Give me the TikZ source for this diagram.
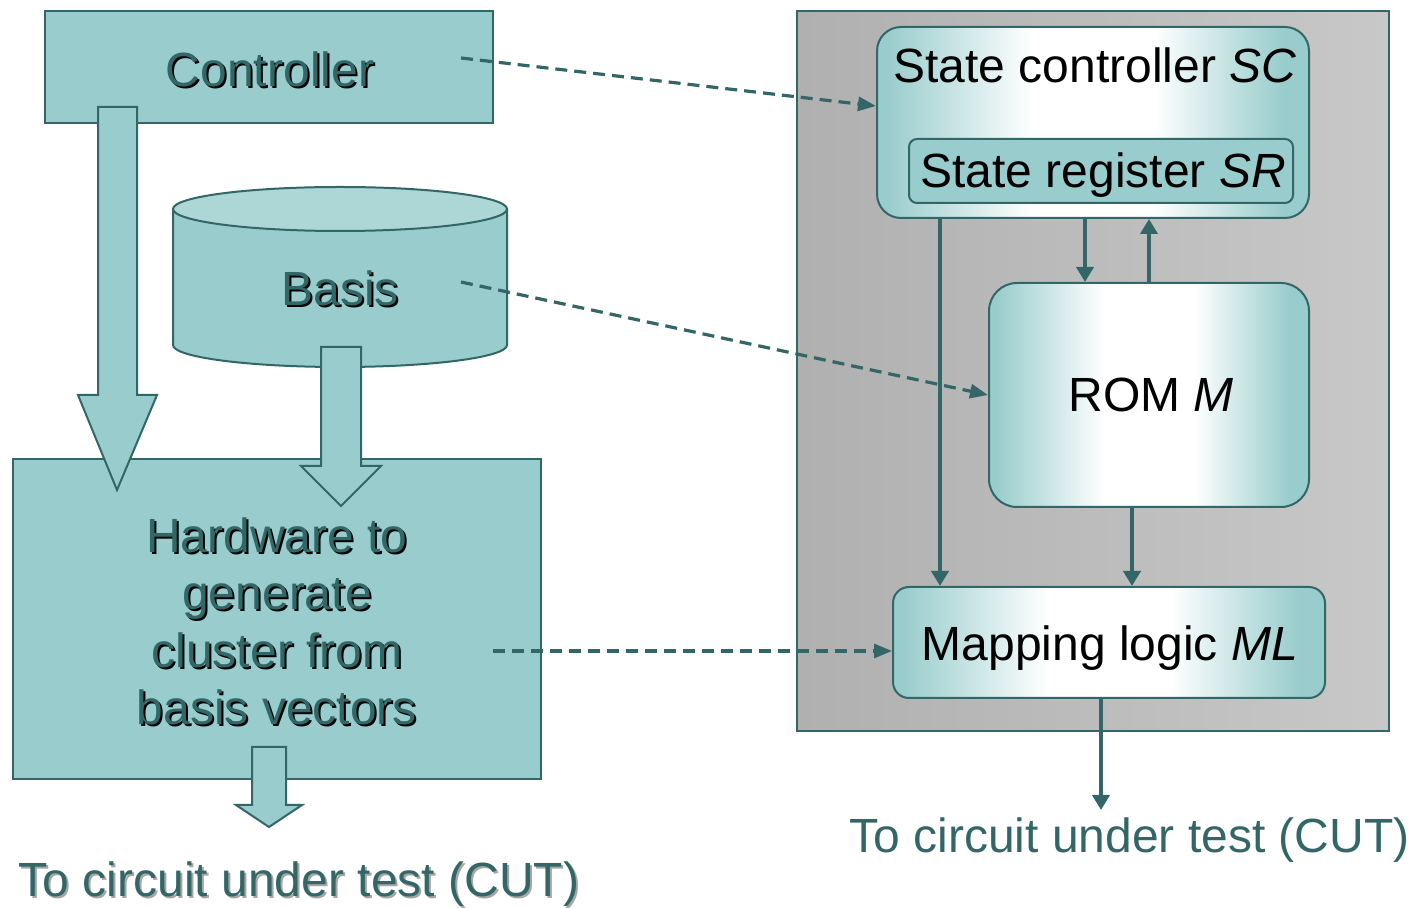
\documentclass[tikz,border=0pt]{standalone}
\usepackage{fontspec}
\setmainfont{Liberation Sans}
\usetikzlibrary{arrows.meta,calc}

\definecolor{tealfill}{HTML}{99CCCC}
\definecolor{tealdark}{HTML}{336666}
\definecolor{tealtop}{HTML}{ADD6D6}
\definecolor{panelL}{HTML}{B0B0B0}
\definecolor{panelR}{HTML}{C8C8C8}

% teal at the sides, white band in the middle
\pgfdeclarehorizontalshading{glassy}{100bp}{color(0bp)=(tealfill); color(26bp)=(tealfill); color(43bp)=(white); color(57bp)=(white); color(72bp)=(tealfill); color(100bp)=(tealfill)}

\tikzset{
  flatbox/.style={draw=tealdark, line width=1pt, fill=tealfill, rectangle},
  glassbox/.style={draw=tealdark, line width=1pt, shade, shading=glassy, rectangle},
  darktext/.style={text=tealdark},
  shadowtext/.style={text=black},
  softshadow/.style={text=black!35},
  blacktext/.style={text=black},
  conn/.style={draw=tealdark, line width=2.4pt, -{Triangle[length=7.5pt,width=8.5pt]}},
  dasharrow/.style={draw=tealdark, line width=1.6pt, dash pattern=on 6pt off 3.5pt, -{Triangle[length=9pt,width=7pt]}},
  blockarrow/.style={draw=tealdark, line width=1pt, fill=tealfill, line join=miter},
}

\begin{document}
\begin{tikzpicture}[x=0.5pt,y=-0.5pt,
  every node/.style={font=\fontsize{24}{28.75}\selectfont, inner sep=0pt}]
\useasboundingbox (0,0) rectangle (1420,908);

% ---------------- right-hand side: pattern generator ----------------
\node[draw=tealdark, line width=1pt, left color=panelL, right color=panelR,
      minimum width=296pt, minimum height=360pt] (panel) at (1093,371) {};

\node[glassbox, rounded corners=12pt, minimum width=216pt, minimum height=95.5pt] (sc) at (1093,122.5) {};
\node[flatbox, rounded corners=4pt, minimum width=192pt, minimum height=32pt] (sr) at (1101,171) {};
\node[glassbox, rounded corners=14pt, minimum width=160pt, minimum height=112pt] (rom) at (1149,395) {};
\node[glassbox, rounded corners=8pt, minimum width=216pt, minimum height=55.5pt] (ml) at (1109,642.5) {};

\node[blacktext, anchor=base] (scT) at (1095,83) {State controller \textit{SC}};
\node[blacktext, anchor=base] (srT) at (1103,188) {State register \textit{SR}};
\node[blacktext, anchor=base] (romT) at (1151,412) {ROM \textit{M}};
\node[blacktext, anchor=base] (mlT) at (1110,661) {Mapping logic \textit{ML}};

% columns of the internal connections
\coordinate (xa) at (940,0);
\coordinate (xb) at (1085,0);
\coordinate (xc) at (1149,0);
\coordinate (xd) at (1132,0);
\coordinate (xe) at (1101,0);
\coordinate (cutEnd) at (1101,810);

\draw[conn] (sc.south -| xa) -- (ml.north -| xa);
\draw[conn] (sc.south -| xb) -- (rom.north -| xb);
\draw[conn] (rom.north -| xc) -- (sc.south -| xc);
\draw[conn] (rom.south -| xd) -- (ml.north -| xd);
\draw[conn] (ml.south -| xe) -- (cutEnd);

\node[darktext, anchor=base] (cutR) at (1129.5,853) {To circuit under test (CUT)};

% ---------------- left-hand side: cluster hardware ----------------
\node[flatbox, minimum width=224pt, minimum height=56pt] (ctl) at (269,67) {};
\node[flatbox, minimum width=264pt, minimum height=160pt] (hw) at (277,619) {};

% basis storage drawn as a cylinder
\path[draw=tealdark, line width=1pt, fill=tealfill]
  (173,209) -- (173,345) arc[start angle=180, end angle=0, x radius=167, y radius=22]
  -- (507,209) -- cycle;
\path[draw=tealdark, line width=1pt, fill=tealtop]
  (340,209) ellipse [x radius=167, y radius=22];
\node[inner sep=0pt, minimum width=167pt, minimum height=79pt] (basis) at (340,277) {};

% block arrows
\path[blockarrow] (98,107) -- (98,395) -- (78,395) -- (117,490) -- (157,395) -- (137,395) -- (137,107) -- cycle;
\path[blockarrow] (321,347) -- (321,466) -- (301,466) -- (341,506) -- (381,466) -- (361,466) -- (361,347) -- cycle;
\path[blockarrow] (252,747) -- (252,805) -- (236,805) -- (269,827) -- (302,805) -- (286,805) -- (286,747) -- cycle;

% embossed labels
\node[shadowtext, anchor=base] (ctlS) at (272,89) {Controller};
\node[darktext, anchor=base] (ctlT) at (270,87) {Controller};
\node[shadowtext, anchor=base] (basisS) at (342,308) {Basis};
\node[darktext, anchor=base] (basisT) at (340,306) {Basis};
\node[shadowtext, anchor=north, align=center] (hwS) at (279,519)
  {Hardware to\\generate\\cluster from\\basis vectors};
\node[darktext, anchor=north, align=center] (hwT) at (277,517)
  {Hardware to\\generate\\cluster from\\basis vectors};
\node[softshadow, anchor=base] (cutLS) at (301,899) {To circuit under test (CUT)};
\node[darktext, anchor=base] (cutL) at (299,897) {To circuit under test (CUT)};

% correspondence between the two views
\coordinate (ctlOut) at (461,58);
\coordinate (basisOut) at (461,282);
\coordinate (hwOut) at (493,651);
\draw[dasharrow] (ctlOut) -- ([yshift=8.25pt]sc.west);
\draw[dasharrow] (basisOut) -- (rom.west);
\draw[dasharrow] (hwOut) -- ([yshift=-4.25pt]ml.west);
\end{tikzpicture}
\end{document}
